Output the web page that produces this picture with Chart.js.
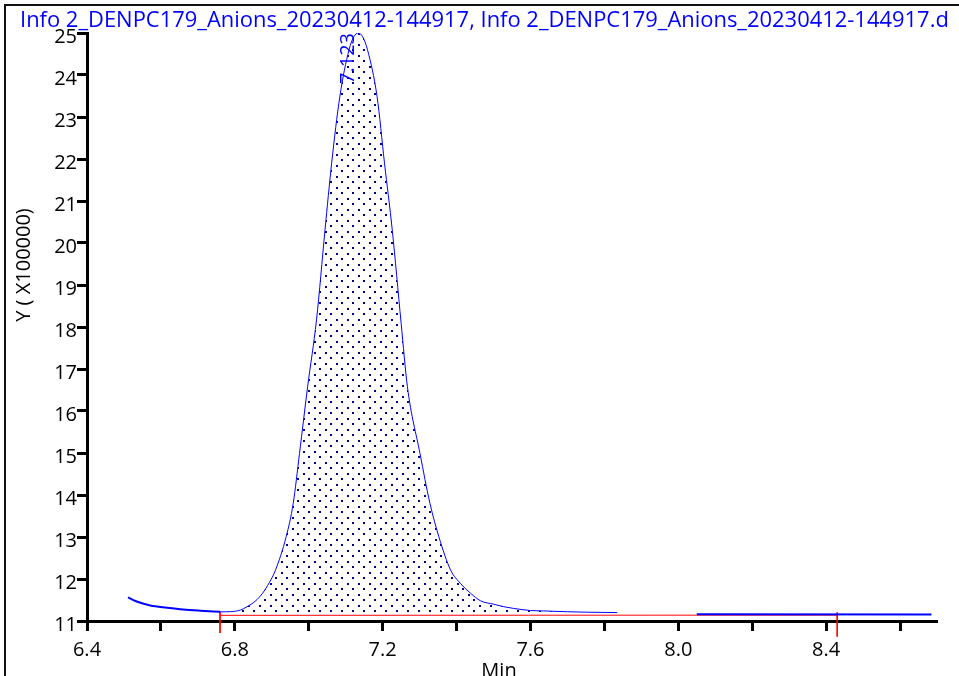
<!DOCTYPE html>
<html>

<head>
  <title>Info 2_DENPC179_Anions</title>
  <script src="https://cdn.jsdelivr.net/npm/chart.js@4.4.0/dist/chart.umd.min.js"></script>
  <style>
    body { margin: 0; background: #fff; }
  </style>
</head>

<body>
  <canvas id="chrom" width="959" height="676"></canvas>

  <script>
    // texto del gráfico
    const titleText = 'Info 2_DENPC179_Anions_20230412-144917, Info 2_DENPC179_Anions_20230412-144917.d';
    const peakLabel = '7.123';
    const yTitle = 'Y ( X100000)';
    const xTitle = 'Min';

    // señal antes del pico
    const leadTime = [6.511, 6.531, 6.552, 6.571, 6.617, 6.66, 6.707, 6.76];
    const leadSignal = [11.564, 11.476, 11.415, 11.37, 11.317, 11.275, 11.245, 11.218];

    // pico (X100000)
    const peakTime = [6.76, 6.788, 6.815, 6.833, 6.855, 6.875, 6.893, 6.91, 6.939, 6.958, 6.975, 6.997,
      7.021, 7.044, 7.062, 7.084, 7.109, 7.122, 7.134, 7.146, 7.159, 7.185, 7.205, 7.226, 7.25, 7.267,
      7.301, 7.328, 7.352, 7.384, 7.41, 7.438, 7.465, 7.5, 7.528, 7.554, 7.6, 7.635, 7.7, 7.75, 7.835];
    const peakSignal = [11.218, 11.223, 11.26, 11.34, 11.47, 11.66, 11.91, 12.21, 13.01, 13.8, 14.99, 16.58,
      18.17, 20.31, 21.9, 23.48, 24.6, 24.91, 25.0, 24.91, 24.6, 23.48, 21.9, 20.31, 18.09, 16.58,
      14.99, 13.8, 13.01, 12.21, 11.9, 11.66, 11.48, 11.4, 11.34, 11.3, 11.25, 11.24, 11.22, 11.21, 11.2];

    // señal después del hueco
    const tailTime = [8.05, 8.685];
    const tailSignal = [11.16, 11.155];

    // línea base de integración y marcas
    const baseTime = [6.76, 8.43];
    const baseSignal = [11.135, 11.14];
    const markTime = [6.76, 8.43];
    const markTop = [11.214, 11.207];
    const markBottom = [10.714, 10.627];

    const toPoints = (xs, ys) => xs.map((x, i) => ({ x: x, y: ys[i] }));

    // trama de puntos para el área
    const tile = document.createElement('canvas');
    tile.width = 11;
    tile.height = 11;
    const tctx = tile.getContext('2d');
    tctx.fillStyle = '#000080';
    tctx.fillRect(6, 0, 2, 2);
    tctx.fillRect(0, 5, 2, 2);
    const dots = tctx.createPattern(tile, 'repeat');

    const redPoints = [
      { x: markTime[0], y: markTop[0] }, { x: markTime[0], y: markBottom[0] }, { x: markTime[0], y: null },
      ...toPoints(baseTime, baseSignal), { x: markTime[1], y: null },
      { x: markTime[1], y: markTop[1] }, { x: markTime[1], y: markBottom[1] }
    ];

    const FONT = '"Open Sans", "Liberation Sans", Arial, sans-serif';

    const extras = {
      id: 'extras',
      afterDraw(chart) {
        const ctx = chart.ctx;
        ctx.save();
        // marco
        ctx.strokeStyle = '#111';
        ctx.lineWidth = 2;
        ctx.beginPath();
        ctx.moveTo(5, 676);
        ctx.lineTo(5, 5);
        ctx.lineTo(959, 5);
        ctx.stroke();

        // título ajustado al ancho del marco
        ctx.font = '20px ' + FONT;
        const w = ctx.measureText(titleText).width;
        const size = Math.min(22, 20 * 929 / w);
        ctx.font = size.toFixed(2) + 'px ' + FONT;
        ctx.fillStyle = '#0000ff';
        ctx.textAlign = 'left';
        ctx.textBaseline = 'alphabetic';
        ctx.fillText(titleText, 20, 27);

        // etiqueta del pico
        ctx.font = '20px ' + FONT;
        const px = chart.scales.x.getPixelForValue(7.123);
        const py = chart.scales.y.getPixelForValue(25);
        ctx.save();
        ctx.translate(px - 6, py);
        ctx.rotate(-Math.PI / 2);
        ctx.textAlign = 'right';
        ctx.textBaseline = 'middle';
        ctx.fillText(peakLabel, 0, 0);
        ctx.restore();

        ctx.fillStyle = '#000';
        ctx.save();
        ctx.translate(24, 265);
        ctx.rotate(-Math.PI / 2);
        ctx.textAlign = 'center';
        ctx.textBaseline = 'middle';
        ctx.fillText(yTitle, 0, 0);
        ctx.restore();

        ctx.textAlign = 'center';
        ctx.textBaseline = 'alphabetic';
        ctx.fillText(xTitle, 499, 677);
        ctx.restore();
      }
    };

    new Chart(document.getElementById('chrom'), {
      type: 'scatter',
      data: {
        datasets: [
          {
            data: toPoints(peakTime, peakSignal),
            showLine: true, borderColor: '#0000ff', borderWidth: 1, pointRadius: 0,
            cubicInterpolationMode: 'monotone',
            backgroundColor: dots, fill: { value: 11.135 }
          },
          {
            data: toPoints(leadTime, leadSignal),
            showLine: true, borderColor: '#0000ff', borderWidth: 2, pointRadius: 0,
            cubicInterpolationMode: 'monotone'
          },
          {
            data: toPoints(tailTime, tailSignal),
            showLine: true, borderColor: '#0000ff', borderWidth: 2, pointRadius: 0
          },
          {
            data: redPoints,
            showLine: true, spanGaps: false, borderColor: '#ff0000', borderWidth: 1, pointRadius: 0,
            clip: false
          }
        ]
      },
      options: {
        responsive: false,
        animation: false,
        layout: { padding: { top: 33, right: 22, left: 0, bottom: 0 } },
        plugins: { legend: { display: false }, tooltip: { enabled: false } },
        scales: {
          x: {
            type: 'linear', min: 6.4, max: 8.7,
            afterFit: s => { s.height = 55; },
            ticks: {
              stepSize: 0.2, includeBounds: false, autoSkip: false, maxRotation: 0,
              color: '#000', font: { family: FONT, size: 20 }, padding: 7,
              callback: v => (Math.round((v - 6.4) * 10) % 4 === 0 ? v.toFixed(1) : '')
            },
            grid: { drawOnChartArea: false, tickLength: 10, tickWidth: 3, tickColor: '#000' },
            border: { color: '#000', width: 3 }
          },
          y: {
            min: 11, max: 25,
            afterFit: s => { s.width = 87; },
            ticks: {
              stepSize: 1, color: '#000', font: { family: FONT, size: 20 }, padding: 0, labelOffset: 4
            },
            grid: { drawOnChartArea: false, tickLength: 10, tickWidth: 3, tickColor: '#000' },
            border: { color: '#000', width: 3 }
          }
        }
      },
      plugins: [extras]
    });
  </script>
</body>

</html>
